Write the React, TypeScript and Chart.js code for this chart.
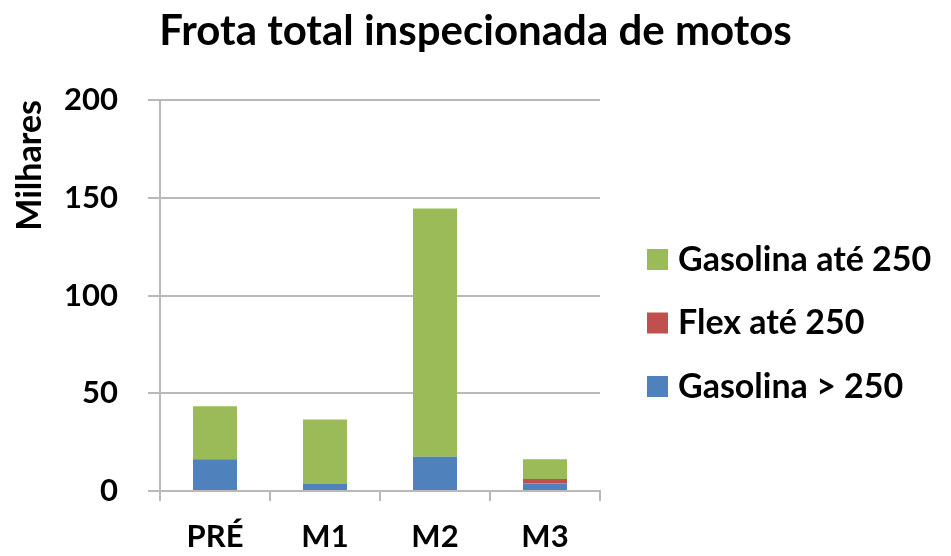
import React, { useEffect, useRef } from "react";
import { Chart, registerables, layouts } from "chart.js";

Chart.register(...registerables);

const categories = ["PRÉ", "M1", "M2", "M3"];
const gasolinaMaior250 = [16.3, 3.9, 17.5, 3.9];
const flexAte250 = [0, 0, 0, 2.2];
const gasolinaAte250 = [27.1, 32.7, 127, 10.1];
const yTicks = [0, 50, 100, 150, 200];

const FONT = "Lato, 'Open Sans', sans-serif";
const GRID = "#b9b9b9";

const sideLegend = {
  id: "sideLegend",
  beforeInit(chart: any) {
    const box: any = {
      position: "right",
      weight: 100,
      fullSize: false,
      options: {},
      left: 0, top: 0, right: 0, bottom: 0, width: 0, height: 0,
      isHorizontal() { return false; },
      update(maxWidth: number, maxHeight: number) {
        this.width = 351;
        this.height = maxHeight;
      },
      draw() {
        const ctx = chart.ctx;
        const ds = [...chart.data.datasets].reverse();
        ctx.save();
        ctx.font = `bold 34px ${FONT}`;
        ctx.textBaseline = "middle";
        ctx.textAlign = "left";
        const x0 = this.left + 47;
        const y0 = 259;
        const step = 63.5;
        ds.forEach((d: any, i: number) => {
          const y = y0 + i * step;
          ctx.fillStyle = d.backgroundColor;
          ctx.fillRect(x0, y - 10, 21, 21);
          ctx.fillStyle = "#000";
          ctx.fillText(d.label, x0 + 31, y + 1);
        });
        ctx.restore();
      },
    };
    layouts.addBox(chart, box);
  },
};

export default function App() {
  const ref = useRef<HTMLCanvasElement | null>(null);
  useEffect(() => {
    if (!ref.current) return;
    const chart = new Chart(ref.current, {
      type: "bar",
      data: {
        labels: categories,
        datasets: [
          { label: "Gasolina > 250", data: gasolinaMaior250, backgroundColor: "#4F81BD" },
          { label: "Flex até 250", data: flexAte250, backgroundColor: "#C0504D" },
          { label: "Gasolina até 250", data: gasolinaAte250, backgroundColor: "#9BBB59" },
        ],
      },
      options: {
        animation: false,
        responsive: false,
        maintainAspectRatio: false,
        layout: { padding: { top: 6, right: 0, bottom: 0, left: 0 } },
        datasets: { bar: { barPercentage: 0.4, categoryPercentage: 1 } },
        plugins: {
          legend: { display: false },
          tooltip: { enabled: false },
          title: {
            display: true,
            text: "Frota total inspecionada de motos",
            color: "#000",
            font: { family: FONT, size: 42, weight: "bold" },
            padding: { top: 0, bottom: 43.6 },
          },
        },
        scales: {
          x: {
            stacked: true,
            grid: { display: true, drawOnChartArea: false, offset: true, tickLength: 10, color: GRID, lineWidth: 2 },
            border: { color: GRID, width: 2 },
            ticks: { color: "#000", font: { family: FONT, size: 31, weight: "bold" }, padding: 17 },
            afterFit: (s: any) => { s.height = 65; },
          },
          y: {
            stacked: true,
            min: 0,
            max: 200,
            afterBuildTicks: (s: any) => { s.ticks = yTicks.map((v) => ({ value: v })); },
            grid: { color: GRID, lineWidth: 2, tickLength: 12 },
            border: { color: GRID, width: 2 },
            ticks: { color: "#000", font: { family: FONT, size: 31, weight: "bold" }, padding: 30 },
            title: {
              display: true,
              text: "Milhares",
              align: "end",
              color: "#000",
              font: { family: FONT, size: 34, weight: "bold" },
              padding: { top: 10, bottom: 0 },
            },
            afterFit: (s: any) => { s.width = 160; },
          },
        },
      },
      plugins: [sideLegend],
    });
    return () => chart.destroy();
  }, []);
  return (
    <div style={{ position: "absolute", left: 0, top: 0, width: 951, height: 556, background: "#fff" }}>
      <canvas ref={ref} width={951} height={556} />
    </div>
  );
}
